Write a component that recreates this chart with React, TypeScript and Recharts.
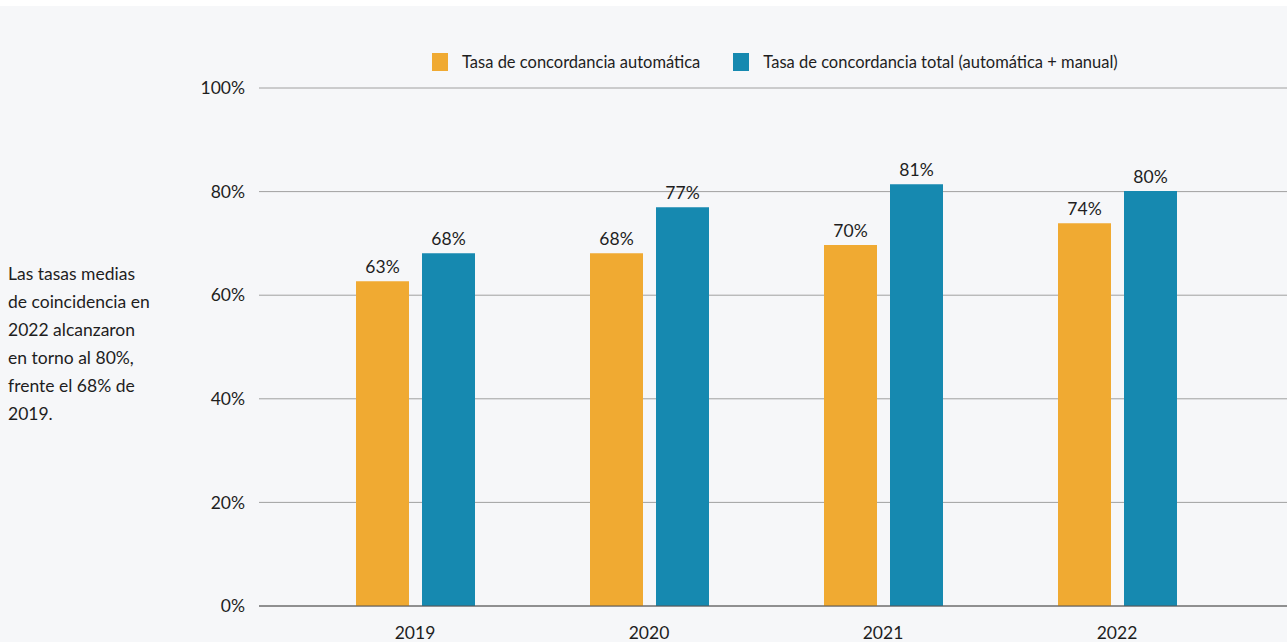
import { BarChart, Bar, XAxis, YAxis, CartesianGrid, LabelList, Legend, ReferenceLine } from "recharts";

const YEARS = ["2019", "2020", "2021", "2022"];
const AUTO_RATE = [62.7, 68.1, 69.7, 73.9];
const TOTAL_RATE = [68.1, 77.0, 81.4, 80.1];
const Y_TICKS = [0, 20, 40, 60, 80, 100];
const NOTE_LINES = [
  "Las tasas medias",
  "de coincidencia en",
  "2022 alcanzaron",
  "en torno al 80%,",
  "frente el 68% de",
  "2019.",
];

const ORANGE = "#f0aa32";
const BLUE = "#1689b0";
const TEXT = "#1e1e1e";
const FONT = "Lato, 'Noto Sans', sans-serif";

const SERIES = [
  { key: "auto", label: "Tasa de concordancia automática", color: ORANGE },
  { key: "total", label: "Tasa de concordancia total (automática + manual)", color: BLUE },
];

const data = YEARS.map((year, i) => ({ year, auto: AUTO_RATE[i], total: TOTAL_RATE[i] }));

function ChartLegend() {
  return (
    <div style={{ display: "flex", alignItems: "center", fontFamily: FONT, fontSize: 16.5, color: TEXT, whiteSpace: "nowrap" }}>
      {SERIES.map((s) => (
        <div key={s.key} style={{ display: "flex", alignItems: "center", marginRight: 33 }}>
          <span style={{ width: 16, height: 18, background: s.color, display: "inline-block", marginRight: 14 }} />
          <span>{s.label}</span>
        </div>
      ))}
    </div>
  );
}

export default function App() {
  return (
    <div style={{ position: "absolute", left: 0, top: 0, width: 1287, height: 642, background: "#fff", overflow: "hidden" }}>
      <div style={{ position: "absolute", left: 0, top: 6, width: 1287, height: 636, background: "#f6f7f9" }} />
      <div
        style={{
          position: "absolute",
          left: 8,
          top: 260,
          fontFamily: FONT,
          fontSize: 17.5,
          lineHeight: "28px",
          color: TEXT,
          whiteSpace: "nowrap",
        }}
      >
        {NOTE_LINES.map((line) => (
          <div key={line}>{line}</div>
        ))}
      </div>
      <div style={{ position: "absolute", left: 0, top: 0 }}>
        <BarChart
          width={1287}
          height={642}
          data={data}
          margin={{ top: 88, right: 0, bottom: 6, left: 0 }}
          barSize={53}
          barGap={13}
        >
          <CartesianGrid vertical={false} stroke="#a0a0a0" strokeWidth={1} />
          <XAxis
            dataKey="year"
            height={30}
            tickLine={false}
            axisLine={false}
            tickMargin={15}
            padding={{ left: 39, right: 53 }}
            tick={{ fill: TEXT, fontSize: 17.5, fontFamily: FONT }}
          />
          <YAxis
            width={259}
            domain={[0, 100]}
            ticks={Y_TICKS}
            tickLine={false}
            axisLine={false}
            tickMargin={8}
            tickFormatter={(v: number) => `${v}%`}
            tick={{ fill: TEXT, fontSize: 17.5, fontFamily: FONT }}
          />
          <ReferenceLine y={0} stroke="#555" strokeWidth={1.2} />
          <Legend
            layout="horizontal"
            verticalAlign="middle"
            align="center"
            wrapperStyle={{ position: "absolute", top: 52, left: 432, width: "auto" }}
            content={() => <ChartLegend />}
          />
          {SERIES.map((s) => (
            <Bar key={s.key} dataKey={s.key} fill={s.color} isAnimationActive={false}>
              <LabelList
                dataKey={s.key}
                position="top"
                offset={8}
                formatter={(v: number) => `${Math.round(v)}%`}
                style={{ fill: TEXT, fontSize: 17.5, fontFamily: FONT }}
              />
            </Bar>
          ))}
        </BarChart>
      </div>
    </div>
  );
}
